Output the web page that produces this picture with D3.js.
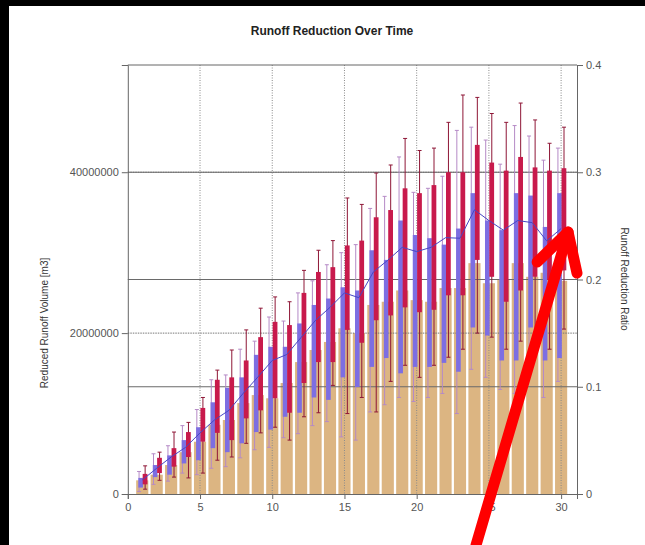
<!DOCTYPE html>
<html lang="en">
<head>
<meta charset="UTF-8">
<title>Runoff Reduction Over Time</title>
<script src="https://d3js.org/d3.v7.min.js"></script>
<style>
  body { margin: 0; background: #000; }
  svg { display: block; font-family: "Liberation Sans", Arial, sans-serif; }
  .tick text { fill: #555; font-size: 11px; }
</style>
</head>
<body>
<svg id="chart" width="645" height="545"></svg>
<script>
// years on the x axis
const years = [1,2,3,4,5,6,7,8,9,10,11,12,13,14,15,16,17,18,19,20,21,22,23,24,25,26,27,28,29,30];

// tan bars, reduced runoff volume (millions of m3)
const volume = [1.7,2.4,3.6,5.2,6.5,8.6,9.2,11.3,12.3,11.9,13.8,16.4,17.9,18.9,20.6,20.0,23.5,23.9,25.3,24.1,23.9,25.6,25.6,28.7,26.2,26.6,28.7,27.0,27.5,26.5];

// blue boxes (millions of m3)
const blueQ1  = [0.8,2.1,2.4,3.8,4.2,5.7,5.2,6.3,7.7,8.0,9.6,10.1,12.0,11.7,14.5,13.3,15.8,16.9,15.0,15.8,15.8,16.3,15.2,20.7,19.7,16.6,16.6,20.7,16.6,16.9];
const blueQ3  = [2.0,3.6,4.8,6.7,8.3,11.4,13.2,14.5,17.3,18.3,18.3,21.2,23.5,24.3,25.7,25.3,30.3,29.1,34.0,32.2,31.8,31.0,33.0,37.4,34.0,32.8,37.4,37.1,33.2,37.4];
const blueMin = [0.3,1.2,1.6,2.6,2.4,3.2,3.4,4.5,5.5,5.8,7.0,7.5,8.5,9.0,7.1,6.7,10.2,11.1,12.0,11.5,12.0,12.5,10.0,15.5,14.5,13.0,12.5,15.0,12.0,14.0];
const blueMax = [2.8,5.0,6.0,8.5,10.5,14.2,14.8,18.0,19.0,22.0,21.5,25.0,26.5,28.5,30.0,31.0,35.5,37.0,41.9,37.5,38.0,39.5,45.2,45.6,44.0,41.0,45.8,44.5,41.5,43.0];

// red boxes (millions of m3)
const redQ1  = [1.2,2.6,3.4,4.6,6.5,7.6,6.7,9.4,10.4,11.9,10.1,13.8,16.4,16.4,20.4,18.8,21.6,22.2,23.2,22.6,22.9,24.7,24.7,29.1,27.0,23.9,25.3,27.0,26.6,27.8];
const redQ3  = [2.5,4.5,5.7,7.7,10.7,14.2,14.5,16.6,19.5,21.4,21.0,25.0,27.6,28.2,30.9,31.5,34.4,35.3,38.0,37.4,38.4,40.0,40.0,43.4,41.2,40.2,41.9,40.6,40.2,40.5];
const redMin = [0.6,1.7,2.1,2.0,2.6,4.2,4.6,6.3,7.6,8.3,6.7,9.6,10.1,13.5,10.0,12.0,10.2,14.0,16.0,14.5,16.0,17.0,18.0,20.0,19.5,18.0,19.0,19.5,18.0,20.5];
const redMax = [3.5,5.2,7.7,8.9,12.0,15.4,17.9,20.4,23.1,24.5,23.9,27.8,30.3,31.5,36.8,36.0,39.9,40.9,44.2,42.7,43.0,46.2,49.6,49.3,47.3,46.2,48.6,46.5,43.6,45.6];

// line, runoff reduction ratio
const ratio = [0.013,0.024,0.0345,0.0435,0.057,0.069,0.078,0.094,0.109,0.1245,0.130,0.146,0.162,0.174,0.1875,0.183,0.207,0.218,0.230,0.226,0.230,0.239,0.2385,0.265,0.255,0.246,0.255,0.253,0.236,0.2475];

const xTicks = [0,5,10,15,20,25,30];
const leftTicks = [0,20000000,40000000];
const rightTicks = [0,0.1,0.2,0.3,0.4];

const M = 1e6;
const svg = d3.select("#chart");

// black frame, white page
svg.append("rect").attr("width", 645).attr("height", 545).attr("fill", "#000");
svg.append("rect").attr("x", 9).attr("y", 6).attr("width", 636).attr("height", 539).attr("fill", "#fff");

const x = d3.scaleLinear().domain([0, 31.1]).range([127.8, 577]);
const yL = d3.scaleLinear().domain([0, 53.33 * M]).range([494, 65]);
const yR = d3.scaleLinear().domain([0, 0.4]).range([494, 65]);

// tan bars
const barW = x(0.84) - x(0);
svg.append("g").selectAll("rect").data(years).join("rect")
  .attr("x", (d) => x(d) - barW / 2)
  .attr("y", (d, i) => yL(volume[i] * M))
  .attr("width", barW)
  .attr("height", (d, i) => yL(0) - yL(volume[i] * M))
  .attr("fill", "#dcb582");

// grid
const grid = svg.append("g");
grid.selectAll(".vg").data(xTicks.filter(d => d > 0)).join("line")
  .attr("x1", d => x(d)).attr("x2", d => x(d))
  .attr("y1", 65).attr("y2", 494)
  .attr("stroke", "#8a8a8a").attr("stroke-dasharray", "1,1.5");
grid.selectAll(".hl").data(leftTicks.filter(d => d > 0)).join("line")
  .attr("x1", 127.8).attr("x2", 577)
  .attr("y1", d => yL(d)).attr("y2", d => yL(d))
  .attr("stroke", "#777").attr("stroke-dasharray", "1.5,1");
grid.selectAll(".hr").data(rightTicks.filter(d => d > 0 && d < 0.4)).join("line")
  .attr("x1", 127.8).attr("x2", 577)
  .attr("y1", d => yR(d)).attr("y2", d => yR(d))
  .attr("stroke", "#6a6a6a");

// box + whisker groups
function boxes(q1, q3, lo, hi, off, w, fill, wOff, wColor) {
  const g = svg.append("g");
  g.selectAll("line.w").data(years).join("line")
    .attr("x1", d => x(d + wOff)).attr("x2", d => x(d + wOff))
    .attr("y1", (d, i) => yL(lo[i] * M)).attr("y2", (d, i) => yL(hi[i] * M))
    .attr("stroke", wColor).attr("stroke-width", 1);
  ["top", "bot"].forEach(k => {
    g.selectAll("line.c" + k).data(years).join("line")
      .attr("x1", d => x(d + wOff) - 2).attr("x2", d => x(d + wOff) + 2)
      .attr("y1", (d, i) => yL((k === "top" ? hi[i] : lo[i]) * M))
      .attr("y2", (d, i) => yL((k === "top" ? hi[i] : lo[i]) * M))
      .attr("stroke", wColor).attr("stroke-width", 1);
  });
  g.selectAll("rect").data(years).join("rect")
    .attr("x", d => x(d + off))
    .attr("y", (d, i) => yL(q3[i] * M))
    .attr("width", x(w) - x(0))
    .attr("height", (d, i) => yL(q1[i] * M) - yL(q3[i] * M))
    .attr("fill", fill);
}
boxes(blueQ1, blueQ3, blueMin, blueMax, -0.27, 0.32, "#7d6ee2", -0.22, "#b58ac6");
boxes(redQ1, redQ3, redMin, redMax, 0.03, 0.33, "#c81a4c", 0.2, "#8e1636");

// ratio line
svg.append("path")
  .datum(years)
  .attr("fill", "none")
  .attr("stroke", "#4646c4")
  .attr("stroke-width", 1)
  .attr("d", d3.line().x(d => x(d)).y((d, i) => yR(ratio[i])));

// frame
svg.append("line").attr("x1", 127.8).attr("x2", 577).attr("y1", 65).attr("y2", 65).attr("stroke", "#666");

// axes
const axL = svg.append("g").attr("transform", "translate(127.8,0)")
  .call(d3.axisLeft(yL).tickValues(leftTicks).tickFormat(d3.format("d")).tickSize(6).tickPadding(3));
const axR = svg.append("g").attr("transform", "translate(577,0)")
  .call(d3.axisRight(yR).tickValues(rightTicks).tickFormat(d => d === 0 ? "0" : d3.format(".1f")(d)).tickSize(6).tickPadding(3));
const axB = svg.append("g").attr("transform", "translate(0,494)")
  .call(d3.axisBottom(x).tickValues(xTicks).tickFormat(d3.format("d")).tickSize(5).tickPadding(4));
[axL, axR, axB].forEach(a => {
  a.select(".domain").attr("stroke", "#666");
  a.selectAll(".tick line").attr("stroke", "#666");
});

// titles
svg.append("text").attr("x", 332).attr("y", 35).attr("text-anchor", "middle")
  .attr("font-size", 12).attr("font-weight", "bold").attr("fill", "#222")
  .text("Runoff Reduction Over Time");
svg.append("text").attr("transform", "translate(48,323) rotate(-90)").attr("text-anchor", "middle")
  .attr("font-size", 10).attr("fill", "#333").text("Reduced Runoff Volume [m3]");
svg.append("text").attr("transform", "translate(621,279) rotate(90)").attr("text-anchor", "middle")
  .attr("font-size", 10).attr("fill", "#333").text("Runoff Reduction Ratio");

// red arrow annotation (data coordinates)
const arrowShaft = [[24.11, -0.0476], [30.48, 0.2443]];
const arrowHead = [[28.34, 0.2163], [30.48, 0.2443], [31.1, 0.206]];
const pl = d3.line().x(d => x(d[0])).y(d => yR(d[1]));
[arrowShaft, arrowHead].forEach(p => {
  svg.append("path").attr("d", pl(p)).attr("fill", "none")
    .attr("stroke", "#ff0000").attr("stroke-width", 11)
    .attr("stroke-linecap", "round").attr("stroke-linejoin", "round");
});
</script>
</body>
</html>
